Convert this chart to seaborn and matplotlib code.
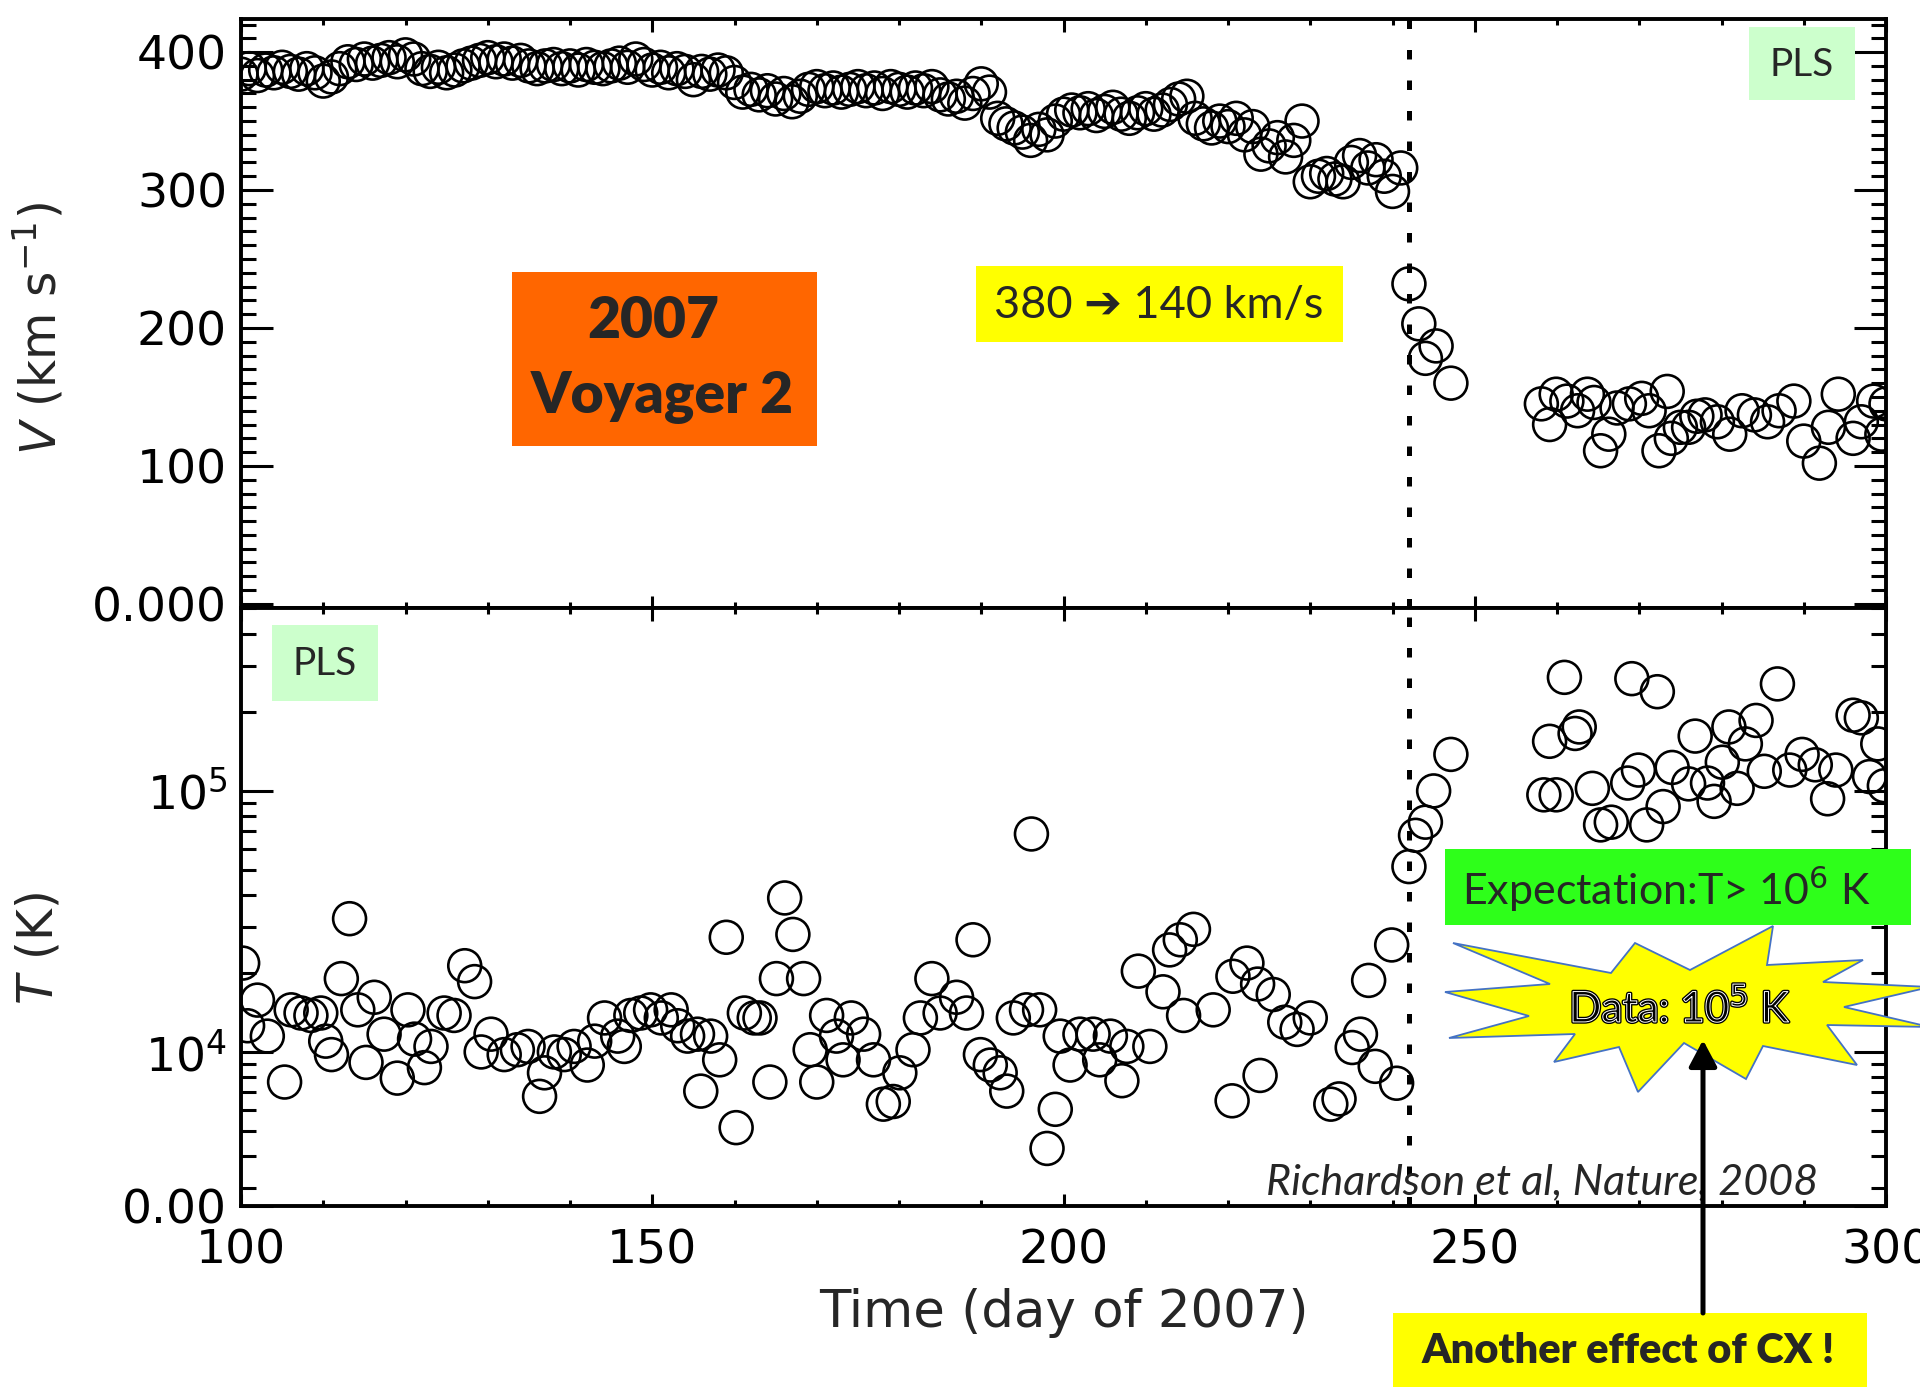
import matplotlib
matplotlib.use("Agg")
import matplotlib.pyplot as plt
import matplotlib.ticker as mticker
import matplotlib.patheffects as pe
from matplotlib.patches import Rectangle, Polygon, FancyArrowPatch
import pandas as pd
import seaborn as sns

# ---------------- data ----------------
V_DAYS_UPSTREAM = [100, 101, 102, 103, 104, 105, 106, 107, 108, 109,
                   110, 111, 112, 113, 114, 115, 116, 117, 118, 119,
                   120, 121, 122, 123, 124, 125, 126, 127, 128, 129,
                   130, 131, 132, 133, 134, 135, 136, 137, 138, 139,
                   140, 141, 142, 143, 144, 145, 146, 147, 148, 149,
                   150, 151, 152, 153, 154, 155, 156, 157, 158, 159,
                   160, 161, 162, 163, 164, 165, 166, 167, 168, 169,
                   170, 171, 172, 173, 174, 175, 176, 177, 178, 179,
                   180, 181, 182, 183, 184, 185, 186, 187, 188, 189,
                   190, 191, 192, 193, 194, 195, 196, 197, 198, 199,
                   200, 201, 202, 203, 204, 205, 206, 207, 208, 209,
                   210, 211, 212, 213, 214, 215, 216, 217, 218, 219,
                   220, 221, 222, 223, 224, 225, 226, 227, 228, 229,
                   230, 231, 232, 233, 234, 235, 236, 237, 238, 239,
                   240, 241]
V_UPSTREAM = [384, 388, 383, 387, 385, 389, 386, 384, 388, 385,
              379, 382, 388, 393, 391, 395, 392, 394, 396, 393,
              398, 395, 388, 386, 389, 385, 387, 390, 392, 394,
              396, 393, 395, 392, 394, 390, 388, 390, 391, 388,
              390, 387, 391, 389, 388, 390, 392, 389, 395, 391,
              387, 389, 385, 388, 386, 380, 386, 384, 387, 385,
              378, 371, 373, 369, 372, 366, 370, 364, 368, 373,
              375, 372, 374, 371, 373, 375, 372, 374, 370, 375,
              373, 371, 374, 372, 375, 369, 366, 368, 363, 370,
              377, 371, 352, 348, 345, 342, 336, 344, 340, 350,
              355, 358, 356, 359, 354, 357, 360, 355, 352, 356,
              359, 355, 358, 362, 366, 368, 352, 348, 345, 350,
              346, 352, 340, 346, 326, 332, 338, 324, 336, 350,
              306, 310, 312, 308, 306, 320, 325, 316, 322, 310,
              299, 316]
V_DAYS_SHOCK = [242.0, 243.2, 244.0, 245.3, 247.1]
V_SHOCK = [232, 203, 178, 187, 160]
V_DAYS_SHEATH = [258.1, 259.1, 259.9, 261.2, 262.5, 263.7, 264.5, 265.3, 266.3, 267.3,
                 268.8, 270.3, 271.2, 272.4, 273.4, 273.9, 275.0, 276.0, 277.0, 278.0,
                 279.5, 281.0, 282.5, 284.0, 285.6, 287.0, 288.8, 290.0, 291.9, 293.0,
                 294.2, 296.0, 297.0, 298.5, 299.5, 300.0]
V_SHEATH = [145, 130, 152, 147, 140, 152, 146, 111, 123, 142,
            145, 149, 140, 111, 154, 120, 128, 128, 136, 137,
            132, 123, 140, 137, 132, 140, 147, 118, 102, 128,
            152, 120, 132, 147, 123, 145]

T_DAYS = [100.2, 100.8, 102.0, 103.2, 105.3, 106.1, 107.3, 108.5, 109.7, 110.3,
          111.0, 112.2, 113.2, 114.2, 115.2, 116.2, 117.4, 119.0, 120.3, 121.1,
          122.3, 123.1, 124.7, 125.9, 127.2, 128.4, 129.2, 130.4, 132.0, 133.6,
          134.9, 136.3, 136.9, 138.1, 139.3, 140.5, 142.1, 143.0, 144.2, 145.8,
          146.6, 147.4, 148.6, 149.8, 151.1, 152.3, 153.1, 154.3, 155.5, 155.9,
          157.1, 158.2, 159.0, 160.2, 161.2, 162.4, 163.1, 164.3, 165.1, 166.1,
          167.1, 168.4, 169.2, 170.0, 171.2, 172.4, 173.2, 174.2, 175.7, 176.9,
          178.1, 179.3, 180.1, 181.7, 182.6, 184.0, 185.0, 187.0, 188.2, 189.0,
          189.9, 191.1, 192.3, 193.1, 193.9, 195.5, 196.1, 197.1, 198.0, 199.0,
          199.6, 200.8, 202.0, 203.6, 204.4, 205.7, 207.1, 207.7, 209.1, 210.5,
          212.1, 212.9, 214.2, 214.6, 215.8, 218.2, 220.5, 220.6, 222.3, 223.6,
          223.9, 225.5, 226.9, 228.4, 230.0, 232.5, 233.5, 235.1, 236.1, 237.1,
          237.9, 239.9, 240.5, 242.0, 242.8, 244.0, 245.0, 247.1,
          258.4, 259.1, 259.9, 260.9, 262.2, 262.7, 264.3, 265.3, 266.6, 268.6,
          269.1, 269.9, 270.9, 272.2, 272.9, 274.0, 276.0, 276.8, 278.3, 279.1,
          280.1, 280.9, 281.9, 282.9, 284.2, 285.2, 286.8, 288.3, 289.8, 291.4,
          292.9, 293.9, 296.0, 297.0, 298.0, 299.0, 299.8]
T_KELVIN = [21900, 12600, 15800, 11500, 7670, 14500, 14100, 13800, 14100, 11000,
            9770, 19100, 32400, 14500, 9120, 16200, 11700, 7940, 14500, 11200,
            8710, 10500, 14100, 13800, 21400, 18600, 10000, 11700, 9770, 10200,
            10500, 6760, 8320, 10000, 9770, 10500, 8910, 11000, 13500, 11500,
            10500, 13800, 14100, 14500, 13500, 14500, 12600, 11500, 11700, 7080,
            11500, 9330, 27500, 5130, 14100, 13500, 13500, 7670, 19100, 38900,
            28200, 19100, 10200, 7670, 13800, 11500, 9330, 13500, 11700, 9330,
            6310, 6460, 8320, 10200, 13500, 19100, 14100, 16200, 14100, 26900,
            9770, 8910, 8320, 7080, 13500, 14500, 68400, 14500, 4270, 6030,
            11500, 8910, 11700, 11700, 9330, 11500, 7760, 10500, 20400, 10500,
            17000, 24600, 26900, 13800, 29500, 14500, 6500, 19500, 21900, 18200,
            8130, 16600, 13000, 12200, 13500, 6310, 6610, 10400, 11700, 18800,
            8810, 25700, 7590, 51300, 67600, 75900, 100000, 138000,
            96600, 154900, 96600, 272300, 166000, 175800, 102300, 74100, 75900, 107200,
            269200, 120200, 74100, 239900, 87100, 123000, 106400, 162200, 107200, 91200,
            128800, 175800, 102300, 151400, 186200, 118900, 257000, 120200, 138000, 125900,
            93300, 120200, 195000, 190500, 113500, 151400, 104700]

SHOCK_DAY = 242
X_TICKS = [100, 150, 200, 250, 300]
V_TICKS = [0, 100, 200, 300, 400]
V_TICK_LABELS = ["0.000", "100", "200", "300", "400"]
T_LIMITS = (2570, 5.02e5)
T_TICKS = [2570, 1e4, 1e5]
T_TICK_LABELS = ["0.00", "10$^{4}$", "10$^{5}$"]

df_v = pd.DataFrame({
    "day": V_DAYS_UPSTREAM + V_DAYS_SHOCK + V_DAYS_SHEATH,
    "V": V_UPSTREAM + V_SHOCK + V_SHEATH,
})
df_t = pd.DataFrame({"day": T_DAYS, "T": T_KELVIN})

# ---------------- style ----------------
sns.set_style("ticks")
plt.rcParams["font.family"] = ["DejaVu Sans"]
plt.rcParams["mathtext.fontset"] = "dejavusans"
plt.rcParams["axes.linewidth"] = 2.8

W, H = 1920, 1387
fig = plt.figure(figsize=(W / 100, H / 100), dpi=100)


def fx(px):
    return px / W


def fy(py):
    return 1 - py / H


L, R = 241, 1886
ax_v = fig.add_axes([fx(L), fy(608), (R - L) / W, (608 - 19) / H])
ax_t = fig.add_axes([fx(L), fy(1206), (R - L) / W, (1206 - 608) / H])

scatter_kw = dict(marker="o", s=560, facecolor="none", edgecolor="black",
                  linewidth=1.9, legend=False)
sns.scatterplot(data=df_v, x="day", y="V", ax=ax_v, color="black", **scatter_kw)
sns.scatterplot(data=df_t, x="day", y="T", ax=ax_t, color="black", **scatter_kw)

for ax in (ax_v, ax_t):
    ax.set_xlim(100, 300)
    ax.axvline(SHOCK_DAY, color="black", lw=3.6, linestyle=(0, (1.9, 4.2)),
               dash_capstyle="butt", zorder=1)
    ax.set_xticks(X_TICKS)
    ax.xaxis.set_minor_locator(mticker.MultipleLocator(10))
    ax.tick_params(axis="both", which="both", direction="in",
                   top=True, right=True, width=2.2, colors="black")
    ax.tick_params(axis="x", which="major", length=9)
    ax.tick_params(axis="x", which="minor", length=4.5)
    ax.tick_params(axis="y", which="major", length=23)
    ax.tick_params(axis="y", which="minor", length=11)
    ax.tick_params(axis="both", labelsize=34)
    for sp in ax.spines.values():
        sp.set_linewidth(2.8)
        sp.set_color("black")

# top panel
ax_v.set_ylim(-3, 424)
ax_v.set_yticks(V_TICKS)
ax_v.set_yticklabels(V_TICK_LABELS)
ax_v.yaxis.set_minor_locator(mticker.MultipleLocator(10))
ax_v.tick_params(axis="x", labelbottom=False)
ax_v.tick_params(axis="y", pad=10)
ax_v.set_xlabel("")
ax_v.set_ylabel(r"$V$ (km s$^{-1}$)", fontsize=35, ha="center", va="center")
ax_v.yaxis.set_label_coords(-0.1228, 0.475)

# bottom panel
ax_t.set_yscale("log")
ax_t.set_ylim(*T_LIMITS)
ax_t.set_yticks(T_TICKS)
ax_t.set_yticklabels(T_TICK_LABELS)
ax_t.yaxis.set_minor_locator(mticker.LogLocator(base=10, subs=[2, 3, 4, 5, 6, 7, 8, 9], numticks=20))
ax_t.yaxis.set_minor_formatter(mticker.NullFormatter())
ax_t.tick_params(axis="y", pad=10)
ax_t.tick_params(axis="x", pad=16)
ax_t.set_xticklabels([str(t) for t in X_TICKS])
ax_t.set_ylabel(r"$T$ (K)", fontsize=35, ha="center", va="center")
ax_t.yaxis.set_label_coords(-0.1228, 0.43)
ax_t.set_xlabel("Time (day of 2007)", fontsize=37, va="center")
ax_t.xaxis.set_label_coords(0.5, -0.179)

# ---------------- annotations ----------------
CAL = ["Lato", "DejaVu Sans"]


def box(x0, y0, x1, y1, color, z=5):
    fig.add_artist(Rectangle((fx(x0), fy(y1)), (x1 - x0) / W, (y1 - y0) / H,
                             transform=fig.transFigure, facecolor=color,
                             edgecolor="none", zorder=z))


# orange title box
box(512, 272, 817, 446, "#FF6600")
fig.text(fx(653), fy(321), "2007", family=CAL, weight="heavy", fontsize=41,
         ha="center", va="center", zorder=6)
fig.text(fx(662), fy(398), "Voyager 2", family=CAL, weight="heavy", fontsize=41,
         ha="center", va="center", zorder=6)

# yellow speed box
box(976, 266, 1343, 342, "#FFFF00")
fig.text(fx(1159), fy(305), "380 \u2794 140 km/s", family=CAL, fontsize=32.5,
         ha="center", va="center", zorder=6)

# PLS boxes
box(1749, 27, 1855, 100, "#CCFFCC")
fig.text(fx(1802), fy(65), "PLS", family=CAL, fontsize=28, ha="center", va="center", zorder=6)
box(272, 625, 378, 701, "#CCFFCC")
fig.text(fx(325), fy(664), "PLS", family=CAL, fontsize=28, ha="center", va="center", zorder=6)

# expectation box
box(1445, 849, 1911, 925, "#2EFF1A")
fig.text(fx(1666), fy(889), "Expectation:T> 10$^{6}$ K", family=CAL, fontsize=31,
         ha="center", va="center", zorder=6)

# starburst
star_px = [(1453, 943), (1611, 973), (1635, 943), (1690, 970), (1773, 926),
           (1767, 965), (1863, 960), (1823, 982), (1930, 987), (1844, 1007),
           (1930, 1027), (1827, 1025), (1857, 1065), (1763, 1046), (1746, 1079),
           (1684, 1043), (1638, 1092), (1619, 1047), (1554, 1062), (1575, 1034),
           (1449, 1038), (1529, 1016), (1445, 992), (1550, 984)]
fig.add_artist(Polygon([(fx(x), fy(y)) for x, y in star_px], closed=True,
                       transform=fig.transFigure, facecolor="#FFFF00",
                       edgecolor="#4472C4", linewidth=1.3, zorder=5))
fig.text(fx(1680), fy(1008), "Data: 10$^{5}$ K", family=CAL, fontsize=30.5,
         color="black", ha="center", va="center", zorder=6,
         path_effects=[pe.Stroke(linewidth=2.6, foreground="black"),
                       pe.Stroke(linewidth=0.7, foreground="white")])

# citation
fig.text(fx(1542), fy(1182), "Richardson et al, Nature, 2008", family=CAL,
         style="italic", fontsize=31, ha="center", va="center", zorder=6)

# another effect box + arrow
box(1393, 1313, 1867, 1395, "#FFFF00")
fig.text(fx(1628), fy(1351), "Another effect of CX !", family=CAL, weight="heavy",
         fontsize=30, ha="center", va="center", zorder=6)
fig.add_artist(FancyArrowPatch((fx(1703), fy(1313)), (fx(1703), fy(1040)),
                               transform=fig.transFigure,
                               arrowstyle="-|>,head_length=1.6,head_width=0.85",
                               mutation_scale=10, lw=3.6, color="black",
                               shrinkA=0, shrinkB=0, zorder=7))

fig.savefig("out.png", dpi=100)
